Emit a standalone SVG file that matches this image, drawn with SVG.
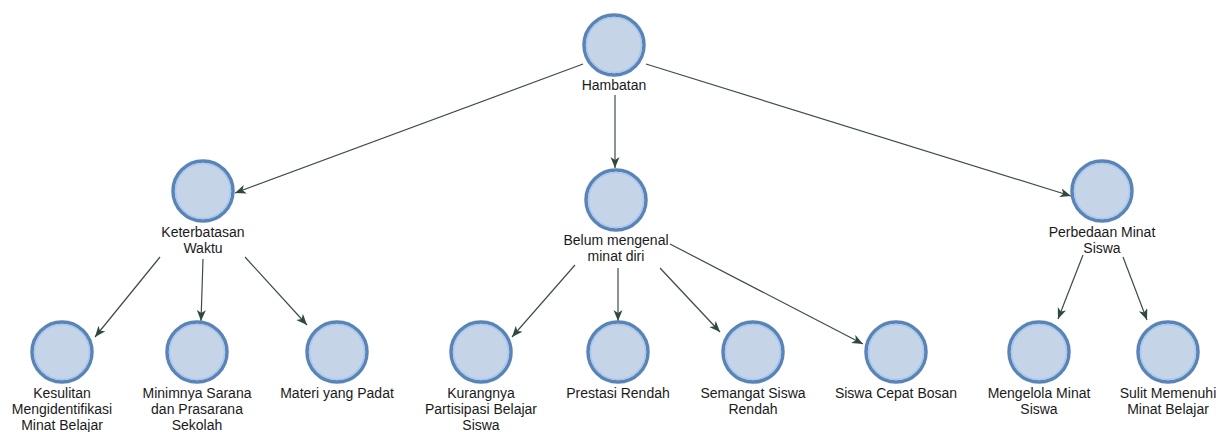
<svg xmlns="http://www.w3.org/2000/svg" width="1225" height="432" viewBox="0 0 1225 432">
  <style>
    .ring { fill: #c6d4e8; stroke: #5a84b6; stroke-width: 3.5; }
    .inner { fill: none; stroke: #a9c8ee; stroke-width: 1.5; }
    .lbl { font-family: "Liberation Sans", Arial, sans-serif; font-size: 14px; fill: #1a1a1a; text-anchor: middle; }
    .edge { fill: none; stroke: #3d4d45; stroke-width: 1.2; marker-end: url(#arrow); }
  </style>
  <defs>
    <marker id="arrow" markerUnits="userSpaceOnUse" markerWidth="12" markerHeight="10" refX="11" refY="4.5" orient="auto">
      <path d="M0,0 L11,4.5 L0,9 L3,4.5 z" fill="#2f4a3a"/>
    </marker>
    <g id="node">
      <circle class="ring" r="30"/>
      <circle class="inner" r="27.5"/>
    </g>
  </defs>
  <rect width="1225" height="432" fill="#ffffff"/>

  <g id="connectors">
    <path class="edge" d="M583,64 L235,193"/>
    <path class="edge" d="M615,95 L615,168"/>
    <path class="edge" d="M646,64 L1071,196"/>
    <path class="edge" d="M160,257 L95,337"/>
    <path class="edge" d="M203,259 L201,321"/>
    <path class="edge" d="M245,257 L307,325"/>
    <path class="edge" d="M575,265 L512,337"/>
    <path class="edge" d="M618,268 L618,321"/>
    <path class="edge" d="M660,268 L720,332"/>
    <path class="edge" d="M670,244 L863,344"/>
    <path class="edge" d="M1083,255 L1058,319"/>
    <path class="edge" d="M1123,257 L1147,320"/>
  </g>

  <g id="hambatan">
    <use href="#node" x="614" y="45"/>
    <text class="lbl" x="614" y="90">Hambatan</text>
  </g>
  <g id="keterbatasan-waktu">
    <use href="#node" x="203" y="191"/>
    <text class="lbl" x="203" y="237">Keterbatasan</text>
    <text class="lbl" x="203" y="253">Waktu</text>
  </g>
  <g id="belum-mengenal">
    <use href="#node" x="616" y="200"/>
    <text class="lbl" x="616" y="245">Belum mengenal</text>
    <text class="lbl" x="616" y="261">minat diri</text>
  </g>
  <g id="perbedaan-minat">
    <use href="#node" x="1102" y="191"/>
    <text class="lbl" x="1102" y="237">Perbedaan Minat</text>
    <text class="lbl" x="1102" y="253">Siswa</text>
  </g>

  <g id="kesulitan">
    <use href="#node" x="62" y="352"/>
    <text class="lbl" x="62" y="398">Kesulitan</text>
    <text class="lbl" x="62" y="414">Mengidentifikasi</text>
    <text class="lbl" x="62" y="430">Minat Belajar</text>
  </g>
  <g id="minimnya-sarana">
    <use href="#node" x="197" y="352"/>
    <text class="lbl" x="197" y="398">Minimnya Sarana</text>
    <text class="lbl" x="197" y="414">dan Prasarana</text>
    <text class="lbl" x="197" y="430">Sekolah</text>
  </g>
  <g id="materi-padat">
    <use href="#node" x="337" y="352"/>
    <text class="lbl" x="337" y="398">Materi yang Padat</text>
  </g>
  <g id="kurangnya-partisipasi">
    <use href="#node" x="481" y="352"/>
    <text class="lbl" x="481" y="398">Kurangnya</text>
    <text class="lbl" x="481" y="414">Partisipasi Belajar</text>
    <text class="lbl" x="481" y="430">Siswa</text>
  </g>
  <g id="prestasi-rendah">
    <use href="#node" x="618" y="352"/>
    <text class="lbl" x="618" y="398">Prestasi Rendah</text>
  </g>
  <g id="semangat-rendah">
    <use href="#node" x="753" y="352"/>
    <text class="lbl" x="753" y="398">Semangat Siswa</text>
    <text class="lbl" x="753" y="414">Rendah</text>
  </g>
  <g id="cepat-bosan">
    <use href="#node" x="896" y="352"/>
    <text class="lbl" x="896" y="398">Siswa Cepat Bosan</text>
  </g>
  <g id="mengelola-minat">
    <use href="#node" x="1039" y="352"/>
    <text class="lbl" x="1039" y="398">Mengelola Minat</text>
    <text class="lbl" x="1039" y="414">Siswa</text>
  </g>
  <g id="sulit-memenuhi">
    <use href="#node" x="1168" y="352"/>
    <text class="lbl" x="1168" y="398">Sulit Memenuhi</text>
    <text class="lbl" x="1168" y="414">Minat Belajar</text>
  </g>
</svg>
